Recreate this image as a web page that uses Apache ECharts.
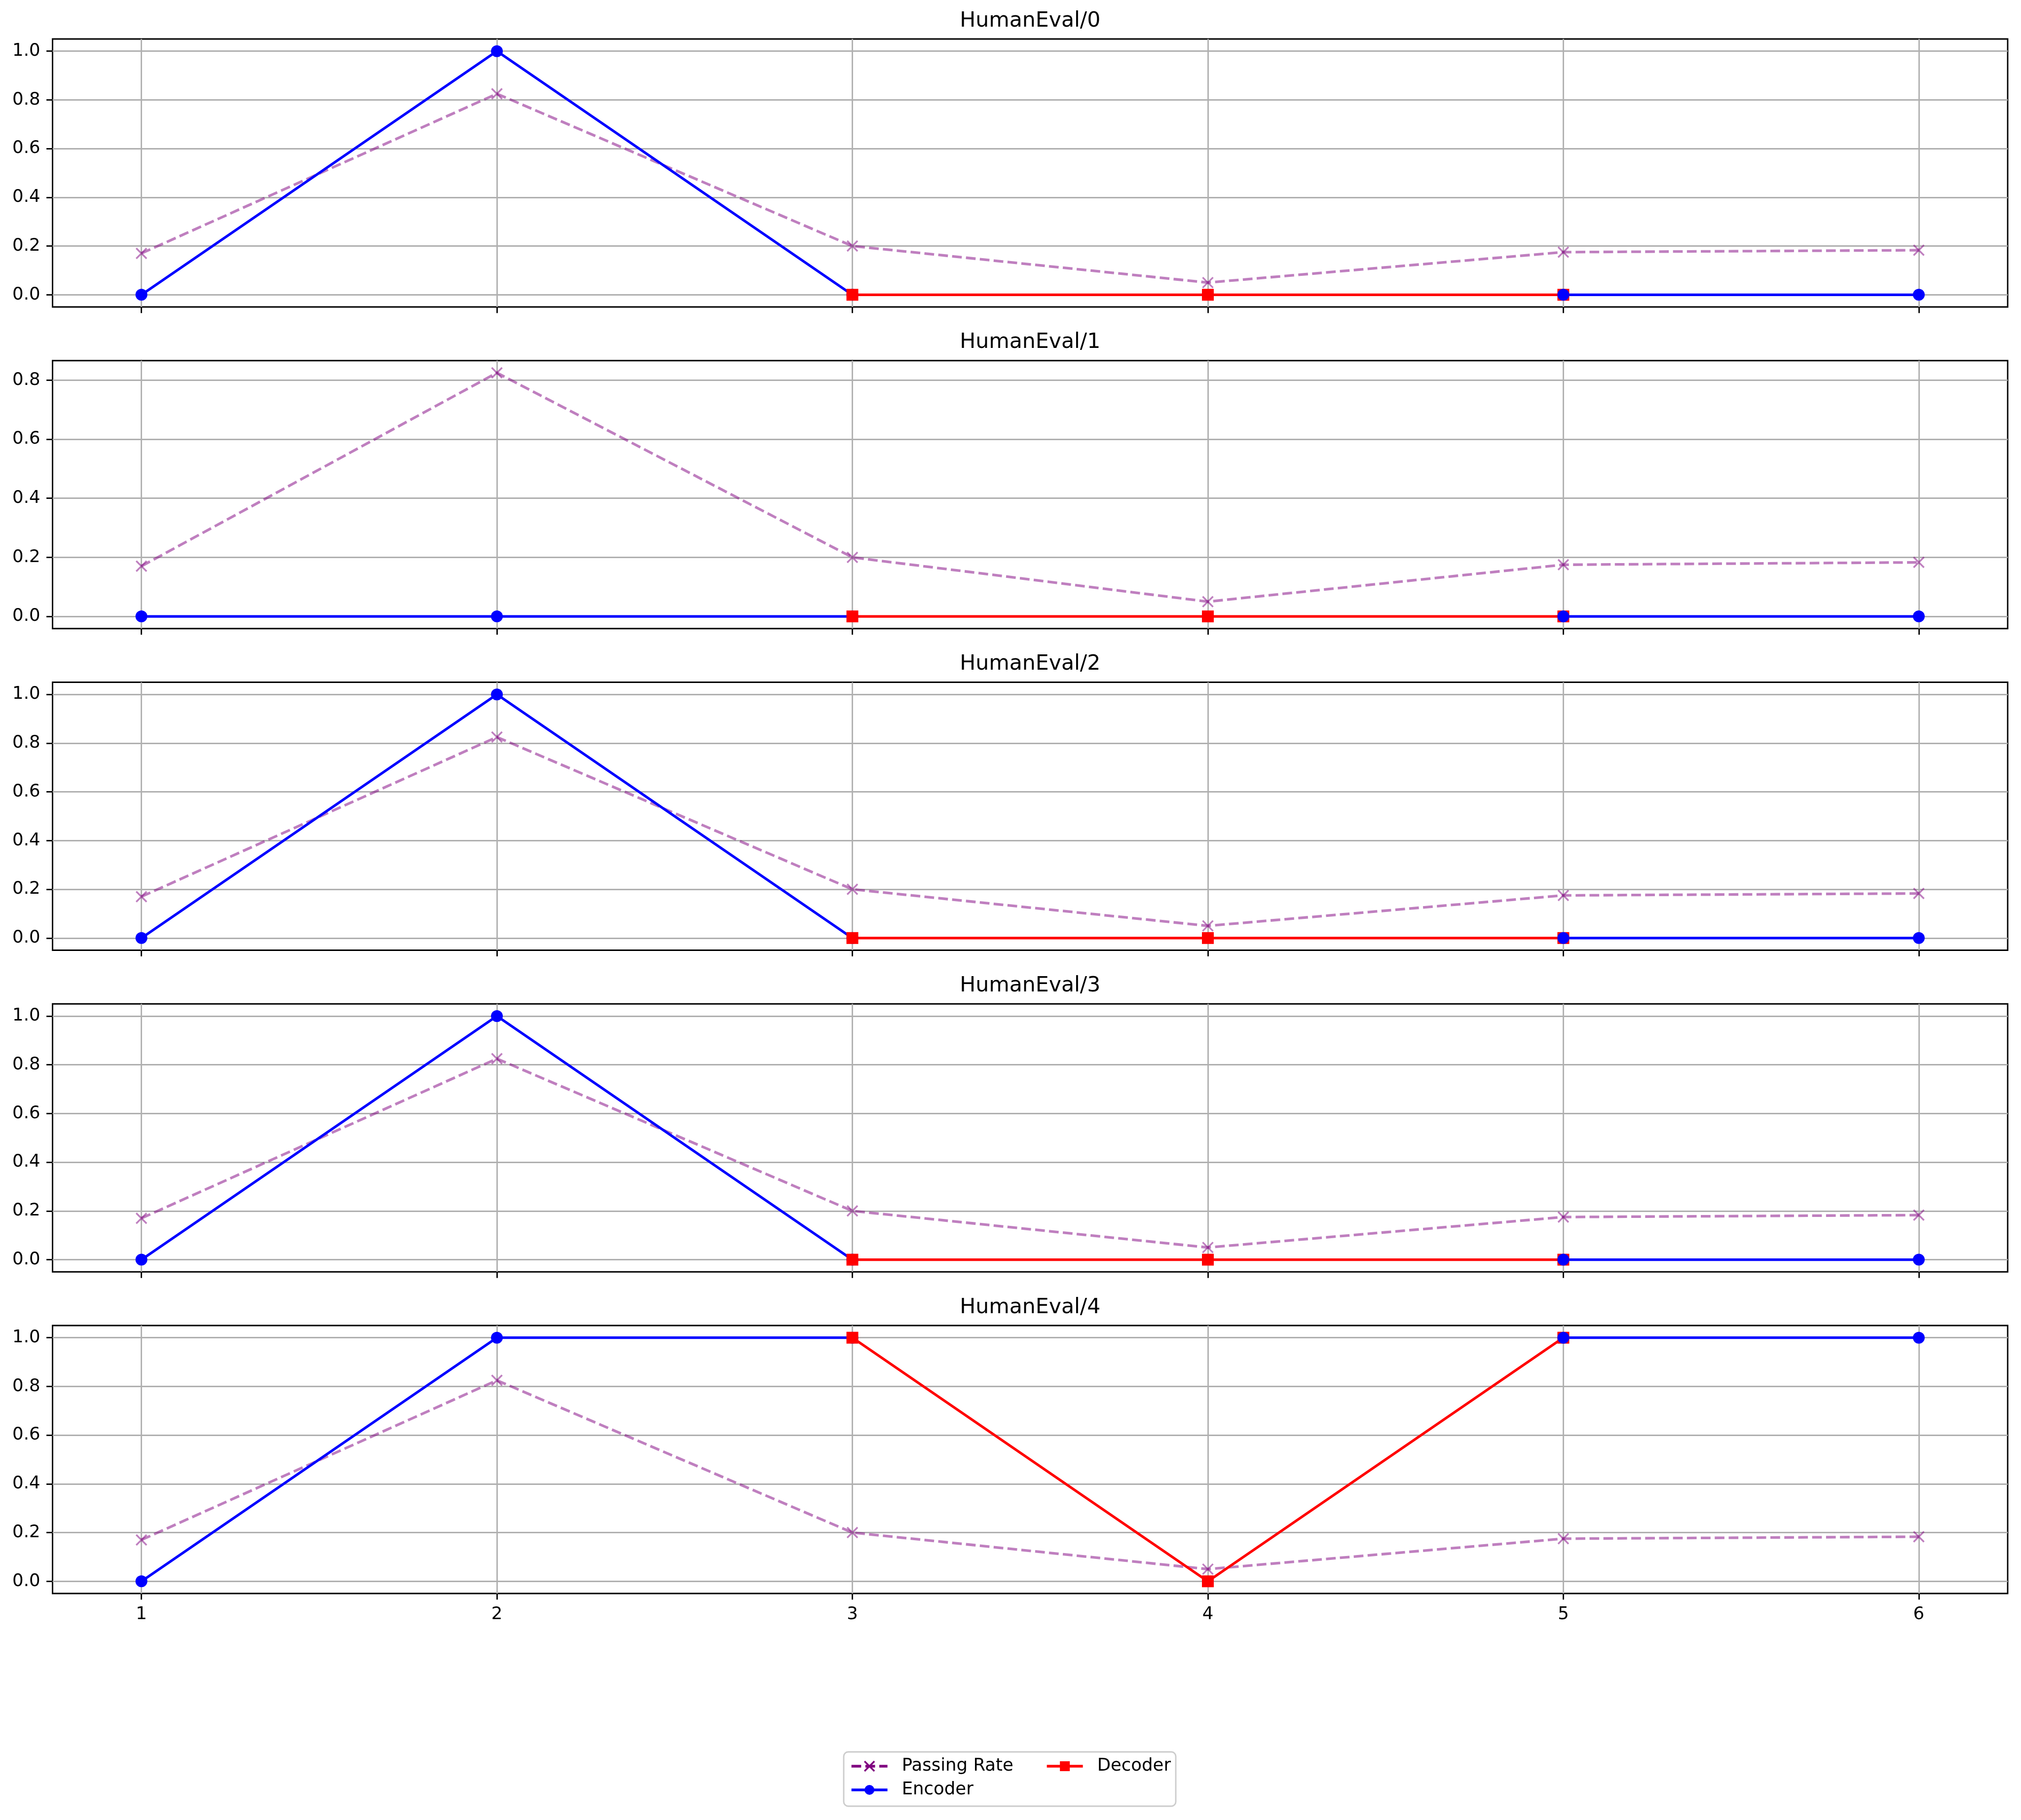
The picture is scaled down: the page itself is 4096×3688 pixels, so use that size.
<!DOCTYPE html>
<html>
<head>
<meta charset="utf-8">
<script src="https://cdn.jsdelivr.net/npm/echarts@6/dist/echarts.min.js"></script>
<style>
html,body{margin:0;padding:0;background:#fff;}
#chart{width:4096px;height:3688px;}
</style>
</head>
<body>
<div id="chart"></div>
<script>
// ---- data ----
const steps = [1, 2, 3, 4, 5, 6];
const panelTitles = ['HumanEval/0', 'HumanEval/1', 'HumanEval/2', 'HumanEval/3', 'HumanEval/4'];
const passingRate = [0.17, 0.825, 0.2, 0.05, 0.175, 0.183];
const encoder0 = [0, 1, 0, null, 0, 0];
const encoder1 = [0, 0, 0, null, 0, 0];
const encoder2 = [0, 1, 0, null, 0, 0];
const encoder3 = [0, 1, 0, null, 0, 0];
const encoder4 = [0, 1, 1, null, 1, 1];
const decoder0 = [null, null, 0, 0, 0, null];
const decoder1 = [null, null, 0, 0, 0, null];
const decoder2 = [null, null, 0, 0, 0, null];
const decoder3 = [null, null, 0, 0, 0, null];
const decoder4 = [null, null, 1, 0, 1, null];
const yTickValues = [0, 0.2, 0.4, 0.6, 0.8, 1.0];

const encoders = [encoder0, encoder1, encoder2, encoder3, encoder4];
const decoders = [decoder0, decoder1, decoder2, decoder3, decoder4];

// ---- layout (output pixels) ----
const FONT = 'DejaVu Sans';
const gridLeft = 106.5, gridWidth = 3962.5, gridHeight = 543;
const gridTop0 = 79, gridPitch = 651.75;
const LW = 5.3, GRIDLW = 2.84, MS = 24;
const PURPLE_A = 'rgba(128,0,128,0.5)';

function pairs(vals, from, to) {
  const out = [];
  for (let j = from; j <= to; j++) {
    if (vals[j] !== null && vals[j] !== undefined) out.push([steps[j], vals[j]]);
  }
  return out;
}
function segments(vals) {
  const segs = [];
  let start = -1;
  for (let j = 0; j <= vals.length; j++) {
    const ok = j < vals.length && vals[j] !== null;
    if (ok && start < 0) start = j;
    if (!ok && start >= 0) { segs.push([start, j - 1]); start = -1; }
  }
  return segs;
}

const xMin = steps[0] - (steps[steps.length - 1] - steps[0]) * 0.05;
const xMax = steps[steps.length - 1] + (steps[steps.length - 1] - steps[0]) * 0.05;

const grids = [], xAxes = [], yAxes = [], series = [], graphics = [];

panelTitles.forEach((t, i) => {
  const top = gridTop0 + i * gridPitch;
  grids.push({left: gridLeft, top: top, width: gridWidth, height: gridHeight,
    show: true, borderColor: '#000', borderWidth: GRIDLW, backgroundColor: 'transparent'});
  const allVals = passingRate.concat(encoders[i], decoders[i]).filter(v => v !== null);
  const lo = Math.min.apply(null, allVals), hi = Math.max.apply(null, allVals);
  const m = (hi - lo) * 0.05;
  const yMin = lo - m, yMax = hi + m;
  const isLast = i === panelTitles.length - 1;
  xAxes.push({
    type: 'value', gridIndex: i, min: xMin, max: xMax, position: 'bottom',
    axisLine: {show: false, onZero: false},
    axisTick: {show: true, inside: false, length: 12.4, customValues: steps, interval: 0,
      lineStyle: {color: '#000', width: GRIDLW}},
    axisLabel: {show: true, customValues: steps, interval: 0, margin: 25, color: '#000',
      fontFamily: FONT, fontSize: 35.5, formatter: v => (isLast ? String(v) : '')},
    splitLine: {show: true, interval: 0, lineStyle: {color: '#b0b0b0', width: GRIDLW}}
  });
  const yt = yTickValues.filter(v => v <= yMax + 1e-9 && v >= yMin - 1e-9);
  yAxes.push({
    type: 'value', gridIndex: i, min: yMin, max: yMax, position: 'left',
    axisLine: {show: false, onZero: false},
    axisTick: {show: true, inside: false, length: 12.4, customValues: yt, interval: 0,
      lineStyle: {color: '#000', width: GRIDLW}},
    axisLabel: {show: true, customValues: yt, interval: 0, margin: 25, color: '#000',
      fontFamily: FONT, fontSize: 35.5, formatter: v => v.toFixed(1)},
    splitLine: {show: true, interval: 0, lineStyle: {color: '#b0b0b0', width: GRIDLW}}
  });
  graphics.push({type: 'text', x: gridLeft + gridWidth / 2, y: top - 15,
    style: {text: t, fontFamily: FONT, fontSize: 42.6, fill: '#000',
      textAlign: 'center', textVerticalAlign: 'bottom'}});

  // Passing rate
  series.push({
    name: 'Passing Rate', type: 'line', xAxisIndex: i, yAxisIndex: i,
    data: pairs(passingRate, 0, passingRate.length - 1),
    symbol: 'path://M0,0L10,10M10,0L0,10', symbolSize: 21, showSymbol: true,
    showAllSymbol: true,
    lineStyle: {color: PURPLE_A, width: LW, type: [19.7, 8.5], cap: 'butt'},
    itemStyle: {color: 'none', borderColor: PURPLE_A, borderWidth: 3.5},
    emphasis: {disabled: true}, silent: true
  });
  const encSegs = segments(encoders[i]);
  const decSegs = segments(decoders[i]);
  const encSeries = encSegs.map(s => ({
    name: 'Encoder', type: 'line', xAxisIndex: i, yAxisIndex: i,
    data: pairs(encoders[i], s[0], s[1]),
    symbol: 'circle', symbolSize: MS, showSymbol: true, showAllSymbol: true,
    lineStyle: {color: '#0000ff', width: LW},
    itemStyle: {color: '#0000ff', borderWidth: 0},
    emphasis: {disabled: true}, silent: true
  }));
  const decSeries = decSegs.map(s => ({
    name: 'Decoder', type: 'line', xAxisIndex: i, yAxisIndex: i,
    data: pairs(decoders[i], s[0], s[1]),
    symbol: 'rect', symbolSize: MS, showSymbol: true, showAllSymbol: true,
    lineStyle: {color: '#ff0000', width: LW},
    itemStyle: {color: '#ff0000', borderWidth: 0},
    emphasis: {disabled: true}, silent: true
  }));
  // draw order: first encoder segment, decoder, remaining encoder segments
  if (encSeries.length) series.push(encSeries[0]);
  decSeries.forEach(s => series.push(s));
  encSeries.slice(1).forEach(s => series.push(s));
});

// legend frame
graphics.push({type: 'rect', z: 0, shape: {x: 1710, y: 3550, width: 673, height: 110, r: 9},
  style: {fill: 'rgba(255,255,255,0.8)', stroke: '#cccccc', lineWidth: GRIDLW}});

const legendText = {fontFamily: FONT, fontSize: 35.5, color: '#000', lineHeight: 36, padding: [0, 0, 0, 24]};

const option = {
  animation: false,
  backgroundColor: '#fff',
  grid: grids,
  xAxis: xAxes,
  yAxis: yAxes,
  series: series,
  graphic: graphics,
  legend: [
    {orient: 'vertical', left: 1723, top: 3561, itemWidth: 73, itemHeight: 25, itemGap: 12,
      padding: 0, selectedMode: false, textStyle: legendText, z: 5,
      data: [
        {name: 'Passing Rate', itemStyle: {color: 'none', borderColor: '#800080', borderWidth: 3.5},
          lineStyle: {color: '#800080', width: LW, type: [19.7, 8.5]}},
        {name: 'Encoder', lineStyle: {width: LW}}
      ]},
    {orient: 'vertical', left: 2119, top: 3561, itemWidth: 73, itemHeight: 25, itemGap: 12,
      padding: 0, selectedMode: false, textStyle: legendText, z: 5,
      data: [{name: 'Decoder', lineStyle: {width: LW}}]}
  ]
};

const chart = echarts.init(document.getElementById('chart'), null, {renderer: 'canvas', width: 4096, height: 3688});
chart.setOption(option);
</script>
</body>
</html>
